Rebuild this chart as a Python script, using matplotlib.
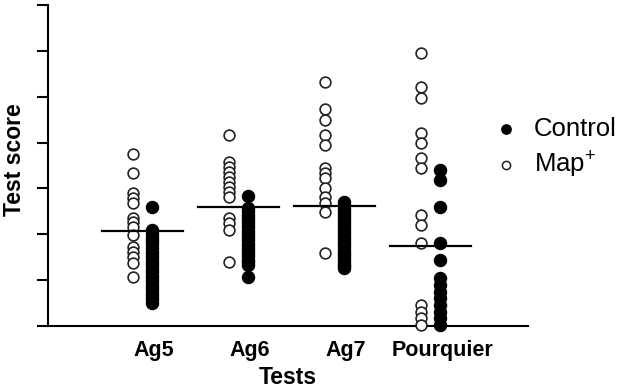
import matplotlib
matplotlib.use('Agg')
import matplotlib.pyplot as plt
import numpy as np

plt.rcParams['font.family'] = ['Liberation Sans', 'DejaVu Sans']
plt.rcParams['mathtext.fontset'] = 'custom'
plt.rcParams['mathtext.rm'] = 'Liberation Sans'

# Data (arbitrary score units, axis unlabelled)
tests = ['Ag5', 'Ag6', 'Ag7', 'Pourquier']

map_plus = [
    [3.75, 3.33, 2.90, 2.79, 2.68, 2.35, 2.27, 2.16, 1.98, 1.72, 1.61, 1.50, 1.37, 1.07],
    [4.16, 3.57, 3.46, 3.36, 3.25, 3.14, 3.03, 2.92, 2.81, 2.35, 2.24, 2.09, 1.39],
    [5.32, 4.73, 4.49, 4.16, 3.94, 3.44, 3.33, 3.22, 3.01, 2.81, 2.68, 2.48, 1.59],
    [5.95, 5.21, 4.97, 4.20, 3.99, 3.66, 3.44, 2.42, 2.20, 1.81, 0.46, 0.31, 0.17, 0.02],
]

control = [
    [2.59, 2.09, 2.00, 1.92, 1.85, 1.78, 1.70, 1.62, 1.55, 1.48, 1.40, 1.33, 1.25,
     1.18, 1.10, 1.02, 0.95, 0.88, 0.80, 0.72, 0.65, 0.58, 0.50],
    [2.83, 2.57, 2.50, 2.43, 2.36, 2.29, 2.22, 2.15, 2.08, 2.01, 1.94, 1.87, 1.80,
     1.73, 1.66, 1.59, 1.52, 1.45, 1.39, 1.33, 1.07],
    [2.70, 2.63, 2.56, 2.50, 2.44, 2.38, 2.32, 2.26, 2.20, 2.14, 2.08, 2.02, 1.96,
     1.90, 1.84, 1.78, 1.72, 1.66, 1.60, 1.54, 1.48, 1.42, 1.36, 1.30, 1.26],
    [3.40, 3.18, 2.59, 1.81, 1.44, 1.05, 0.89, 0.74, 0.61, 0.46, 0.31, 0.17, 0.02],
]

medians = [2.07, 2.59, 2.61, 1.74]

fig = plt.figure(figsize=(6.29, 3.90), dpi=100)
ax = fig.add_axes([0.0763, 0.164, 0.763, 0.823])

for i in range(len(tests)):
    ax.scatter(np.full(len(map_plus[i]), i - 0.1), map_plus[i], s=60,
               facecolors='white', edgecolors='#222222', linewidths=1.2,
               zorder=3, clip_on=False)
    ax.scatter(np.full(len(control[i]), i + 0.1), control[i], s=75,
               color='black', zorder=3, clip_on=False)
    ax.plot([i - 0.42, i + 0.42], [medians[i], medians[i]], color='black',
            lw=1.6, zorder=4)

ax.set_xlim(-0.98, 4.01)
ax.set_ylim(0, 7)
ax.set_yticks(range(8))
ax.set_yticklabels([])
ax.set_xticks(np.arange(len(tests)) + 0.12)
ax.set_xticklabels(tests, fontsize=15.5, fontweight='bold')
ax.tick_params(axis='x', length=0, pad=10)
ax.tick_params(axis='y', length=8, width=1.5, direction='out')

for s in ['top', 'right']:
    ax.spines[s].set_visible(False)
for s in ['left', 'bottom']:
    ax.spines[s].set_linewidth(1.5)

ax.set_ylabel('Test score', fontsize=16.5, fontweight='bold')
ax.yaxis.set_label_coords(-0.045, 0.517)
ax.set_xlabel('Tests', fontsize=16.5, fontweight='bold', labelpad=4)

h1 = ax.scatter([], [], s=45, color='black')
h2 = ax.scatter([], [], s=35, facecolors='white', edgecolors='#222222', linewidths=1.1)
fig.legend([h1, h2], ['Control', 'Map$^{+}$'], loc='upper left',
           bbox_to_anchor=(0.747, 0.76), frameon=False, fontsize=18.5,
           handletextpad=0.6, labelspacing=0.3, handlelength=1.0)

fig.savefig('out.png', dpi=100)
